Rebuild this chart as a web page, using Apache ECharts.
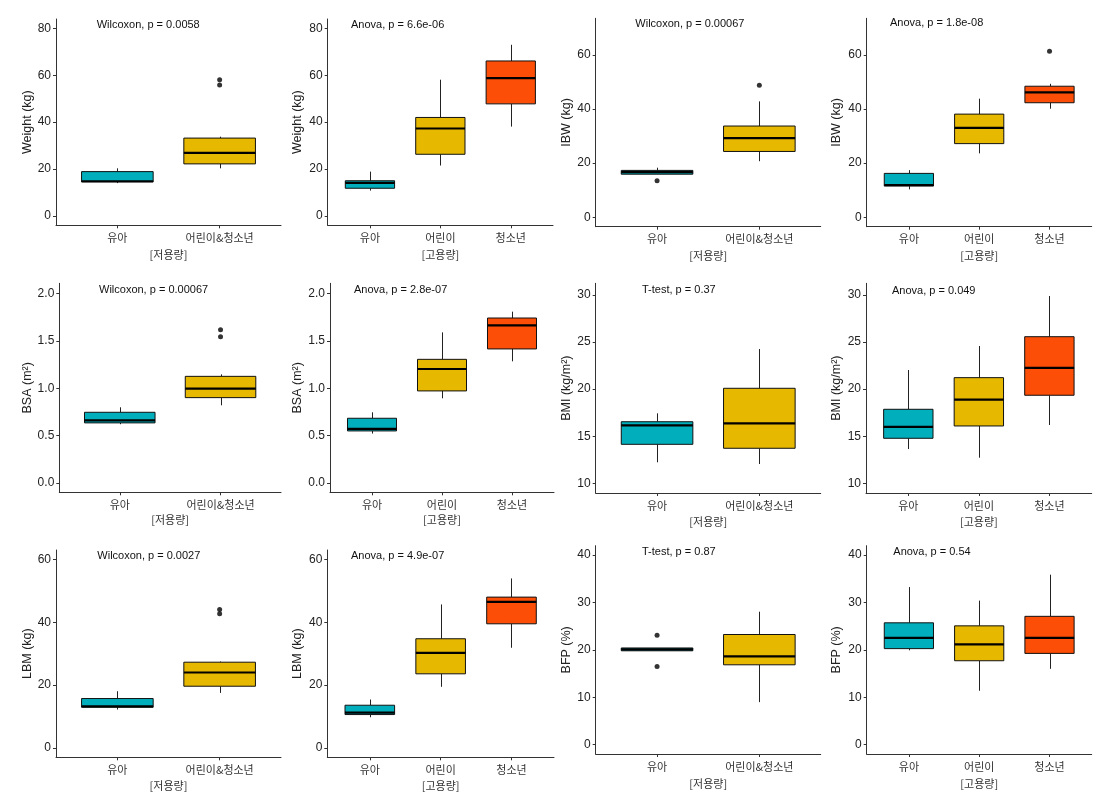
<!DOCTYPE html>
<html><head><meta charset="utf-8">
<script src="https://cdn.jsdelivr.net/npm/echarts@6/dist/echarts.min.js"></script>
<style>html,body{margin:0;padding:0;background:#fff}#c{width:1107px;height:800px}</style>
</head><body><div id="c"></div>
<script>
// ---------- DATA ----------
const groupsLow = ['유아', '어린이&청소년'];
const groupsHigh = ['유아', '어린이', '청소년'];
const doseLow = '[저용량]';
const doseHigh = '[고용량]';

// each box: [lower whisker, Q1, median, Q3, upper whisker]
const weightLow = [[14.0, 14.5, 14.8, 18.9, 20.3], [20.3, 22.2, 26.9, 33.2, 33.8]];
const weightLowOut = [[2, 58.1], [2, 55.8]];
const weightHigh = [[10.8, 11.8, 14.1, 15.0, 18.9], [21.5, 26.3, 37.3, 42.0, 58.1], [38.1, 47.8, 58.8, 66.1, 73.0]];
const weightHighOut = [];

const ibwLow = [[15.9, 15.9, 16.7, 17.3, 18.3], [20.7, 24.3, 29.2, 33.7, 42.8]];
const ibwLowOut = [[1, 13.5], [2, 48.8]];
const ibwHigh = [[10.3, 11.5, 11.9, 16.2, 17.4], [23.6, 27.2, 33.0, 38.1, 43.8], [40.1, 42.3, 46.1, 48.4, 49.3]];
const ibwHighOut = [[3, 61.3]];

const bsaLow = [[0.62, 0.634, 0.661, 0.746, 0.799], [0.82, 0.901, 0.996, 1.126, 1.147]];
const bsaLowOut = [[2, 1.62], [2, 1.546]];
const bsaHigh = [[0.521, 0.549, 0.57, 0.683, 0.746], [0.894, 0.972, 1.204, 1.306, 1.591], [1.285, 1.416, 1.665, 1.743, 1.81]];
const bsaHighOut = [];

const bmiLow = [[12.23, 14.14, 16.16, 16.54, 17.43], [12.05, 13.72, 16.37, 20.09, 24.26]];
const bmiLowOut = [];
const bmiHigh = [[13.64, 14.78, 16.0, 17.86, 22.03], [12.72, 16.09, 18.88, 21.22, 24.58], [16.19, 19.35, 22.25, 25.57, 29.89]];
const bmiHighOut = [];

const lbmLow = [[12.2, 12.94, 13.2, 15.71, 18.04], [17.5, 19.63, 24.0, 27.28, 27.5]];
const lbmLowOut = [[2, 44.07], [2, 42.7]];
const lbmHigh = [[9.75, 10.61, 11.25, 13.58, 15.39], [19.44, 23.58, 30.27, 34.74, 45.67], [31.87, 39.5, 46.5, 48.0, 53.95]];
const lbmHighOut = [];

const bfpLow = [[19.8, 19.8, 20.1, 20.4, 20.4], [8.96, 16.84, 18.61, 23.24, 28.06]];
const bfpLowOut = [[1, 23.09], [1, 16.48]];
const bfpHigh = [[19.9, 20.26, 22.52, 25.71, 33.26], [11.36, 17.7, 21.17, 25.07, 30.4], [15.99, 19.25, 22.52, 27.08, 35.88]];
const bfpHighOut = [];

// y tick labels
const ticksWeight = [0, 20, 40, 60, 80];
const ticksIbw = [0, 20, 40, 60];
const ticksBsa = [0, 0.5, 1.0, 1.5, 2.0];
const ticksBmi = [10, 15, 20, 25, 30];
const ticksLbm = [0, 20, 40, 60];
const ticksBfp = [0, 10, 20, 30, 40];

// test annotations
const testLabels = [
  'Wilcoxon, p = 0.0058', 'Anova, p = 6.6e-06', 'Wilcoxon, p = 0.00067', 'Anova, p = 1.8e-08',
  'Wilcoxon, p = 0.00067', 'Anova, p = 2.8e-07', 'T-test, p = 0.37', 'Anova, p = 0.049',
  'Wilcoxon, p = 0.0027', 'Anova, p = 4.9e-07', 'T-test, p = 0.87', 'Anova, p = 0.54'
];

const panels = [
  { groups: groupsLow,  boxes: weightLow,  out: weightLowOut,  yName: 'Weight (kg)', xName: doseLow,  ticks: ticksWeight, dec: 0 },
  { groups: groupsHigh, boxes: weightHigh, out: weightHighOut, yName: 'Weight (kg)', xName: doseHigh, ticks: ticksWeight, dec: 0 },
  { groups: groupsLow,  boxes: ibwLow,     out: ibwLowOut,     yName: 'IBW (kg)',    xName: doseLow,  ticks: ticksIbw,    dec: 0 },
  { groups: groupsHigh, boxes: ibwHigh,    out: ibwHighOut,    yName: 'IBW (kg)',    xName: doseHigh, ticks: ticksIbw,    dec: 0 },
  { groups: groupsLow,  boxes: bsaLow,     out: bsaLowOut,     yName: 'BSA (m²)',    xName: doseLow,  ticks: ticksBsa,    dec: 1 },
  { groups: groupsHigh, boxes: bsaHigh,    out: bsaHighOut,    yName: 'BSA (m²)',    xName: doseHigh, ticks: ticksBsa,    dec: 1 },
  { groups: groupsLow,  boxes: bmiLow,     out: bmiLowOut,     yName: 'BMI (kg/m²)', xName: doseLow,  ticks: ticksBmi,    dec: 0 },
  { groups: groupsHigh, boxes: bmiHigh,    out: bmiHighOut,    yName: 'BMI (kg/m²)', xName: doseHigh, ticks: ticksBmi,    dec: 0 },
  { groups: groupsLow,  boxes: lbmLow,     out: lbmLowOut,     yName: 'LBM (kg)',    xName: doseLow,  ticks: ticksLbm,    dec: 0 },
  { groups: groupsHigh, boxes: lbmHigh,    out: lbmHighOut,    yName: 'LBM (kg)',    xName: doseHigh, ticks: ticksLbm,    dec: 0 },
  { groups: groupsLow,  boxes: bfpLow,     out: bfpLowOut,     yName: 'BFP (%)',     xName: doseLow,  ticks: ticksBfp,    dec: 0 },
  { groups: groupsHigh, boxes: bfpHigh,    out: bfpHighOut,    yName: 'BFP (%)',     xName: doseHigh, ticks: ticksBfp,    dec: 0 }
];

// ---------- LAYOUT / STYLE ----------
// left, top, width, height, yMin, yMax, yNameGap, textX, textY, xNameGap
const layout = [
  [56, 19, 225, 206.3, -4, 84, 21.7, 96.7, 26, 24],
  [327.7, 19, 225.3, 206.3, -4, 84, 23.4, 351, 26, 24],
  [595.7, 18.3, 225, 208.4, -3.5, 73.5, 23, 635.3, 25, 24],
  [866.7, 18.3, 225, 208.4, -3.5, 73.5, 23.4, 890, 24.3, 24],
  [59.3, 283.3, 221.7, 209, -0.1, 2.11, 25, 99, 290.7, 22.4],
  [330, 283.3, 224, 209, -0.1, 2.11, 25.7, 354, 290.7, 22.4],
  [595.7, 283.3, 225, 209.7, 8.97, 31.24, 23, 642, 290.7, 23],
  [866, 283.3, 225.7, 209.7, 8.97, 31.24, 22.7, 892, 291.7, 23],
  [56, 550, 225, 207.3, -3, 63, 21.7, 97.3, 556.7, 23.4],
  [327.3, 550, 226.7, 207.3, -3, 63, 23, 351, 556.7, 23.4],
  [595.7, 545.7, 225, 208.3, -2, 42, 22.4, 642, 552.7, 24],
  [866.7, 545.7, 225, 208.3, -2, 42, 23.4, 893.3, 553.3, 24]
];
const palette = ['#00AFBB', '#E7B800', '#FC4E07'];
const latin = '"Liberation Sans", Arial, sans-serif';
const korean = '"Noto Sans CJK KR", sans-serif';
const axisColor = '#333';
const boxHalf = 0.35;

function renderBox(params, api) {
  const x = api.value(0);
  const lo = api.value(1), q1 = api.value(2), med = api.value(3), q3 = api.value(4), hi = api.value(5);
  const pHi = api.coord([x, hi]), pQ3 = api.coord([x, q3]), pQ1 = api.coord([x, q1]), pLo = api.coord([x, lo]);
  const tl = api.coord([x - boxHalf, q3]), br = api.coord([x + boxHalf, q1]);
  const mL = api.coord([x - boxHalf, med]), mR = api.coord([x + boxHalf, med]);
  const cx = Math.round(pHi[0]) + 0.5;
  return {
    type: 'group',
    children: [
      { type: 'line', shape: { x1: cx, y1: pHi[1], x2: cx, y2: pQ3[1] }, style: { stroke: '#222', lineWidth: 1 } },
      { type: 'line', shape: { x1: cx, y1: pQ1[1], x2: cx, y2: pLo[1] }, style: { stroke: '#222', lineWidth: 1 } },
      { type: 'rect', shape: { x: tl[0], y: tl[1], width: br[0] - tl[0], height: br[1] - tl[1] },
        style: { fill: palette[x - 1], stroke: '#111', lineWidth: 1 } },
      { type: 'line', shape: { x1: mL[0], y1: mL[1], x2: mR[0], y2: mR[1] }, style: { stroke: '#000', lineWidth: 2.2 } }
    ]
  };
}

const grid = [], xAxis = [], yAxis = [], series = [], graphic = [];
panels.forEach((p, i) => {
  const L = layout[i];
  const n = p.groups.length;
  const cats = p.groups.map((g, k) => k + 1);
  grid.push({ left: L[0], top: L[1], width: L[2], height: L[3], containLabel: false });
  xAxis.push({
    type: 'value', gridIndex: i, min: 0.4, max: n + 0.6,
    name: p.xName, nameLocation: 'middle', nameGap: L[9],
    nameTextStyle: { fontFamily: korean, fontSize: 11, color: '#333' },
    splitLine: { show: false },
    axisLine: { show: true, onZero: false, lineStyle: { color: axisColor, width: 1 } },
    axisTick: { show: true, customValues: cats, length: 3, lineStyle: { color: axisColor } },
    axisLabel: { customValues: cats, margin: 7, fontFamily: korean, fontSize: 11, color: '#333',
      formatter: v => p.groups[Math.round(v) - 1] || '' }
  });
  yAxis.push({
    type: 'value', gridIndex: i, min: L[4], max: L[5],
    name: p.yName, nameLocation: 'middle', nameGap: L[6], nameMoveOverlap: false,
    nameTextStyle: { fontFamily: latin, fontSize: 12.5, color: '#222' },
    splitLine: { show: false },
    axisLine: { show: true, onZero: false, lineStyle: { color: axisColor, width: 1 } },
    axisTick: { show: true, customValues: p.ticks, length: 3, lineStyle: { color: axisColor } },
    axisLabel: { customValues: p.ticks, margin: 5, fontFamily: latin, fontSize: 12, color: '#222',
      formatter: v => Number(v).toFixed(p.dec) }
  });
  series.push({
    type: 'custom', xAxisIndex: i, yAxisIndex: i, renderItem: renderBox,
    encode: { x: 0, y: [1, 2, 3, 4, 5] },
    data: p.boxes.map((b, k) => [k + 1].concat(b)),
    z: 2
  });
  series.push({
    type: 'scatter', xAxisIndex: i, yAxisIndex: i, symbolSize: 5,
    itemStyle: { color: '#000' }, data: p.out, z: 3
  });
  graphic.push({
    type: 'text', left: L[7], top: L[8] - 6.5,
    style: { text: testLabels[i], font: '11px ' + latin, fill: '#111' }
  });
});

const chart = echarts.init(document.getElementById('c'), null, { renderer: 'canvas' });
chart.setOption({ animation: false, backgroundColor: '#fff', grid, xAxis, yAxis, series, graphic });
</script></body></html>
